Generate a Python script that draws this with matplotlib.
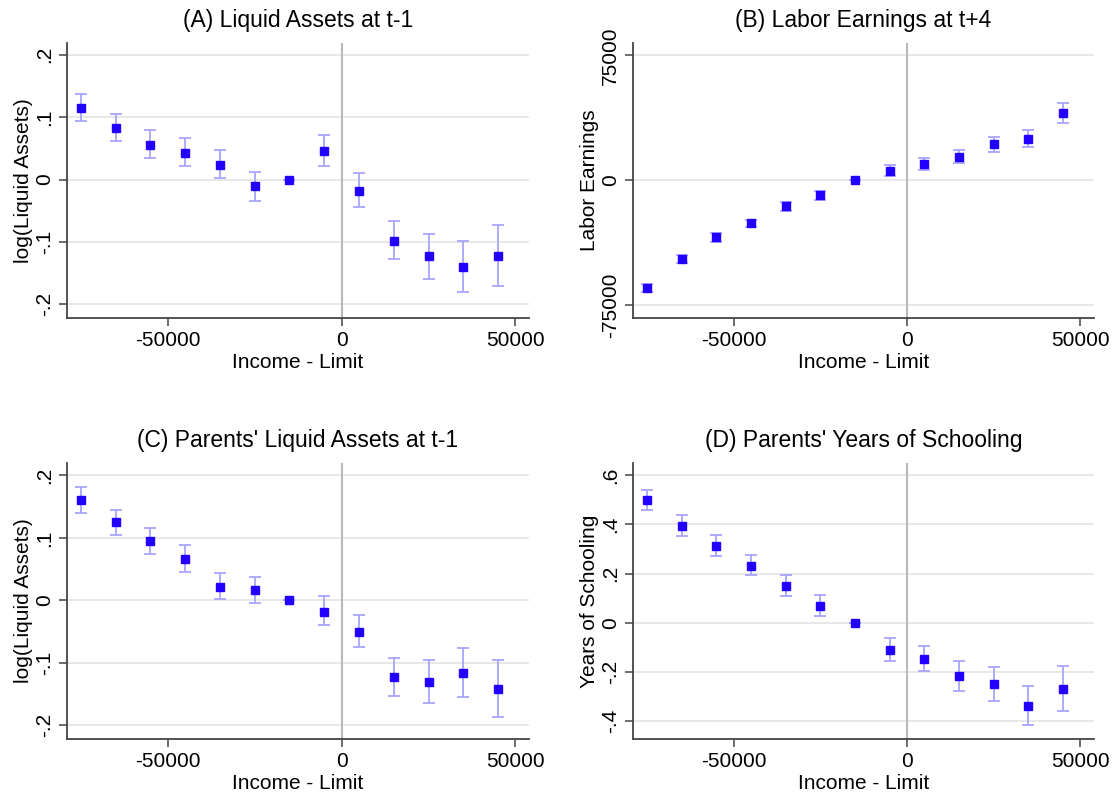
import numpy as np
import matplotlib
matplotlib.use("Agg")
import matplotlib.pyplot as plt

plt.rcParams['font.family'] = ['Liberation Sans', 'DejaVu Sans']

# bins of income minus eligibility limit
bins = [-75000, -65000, -55000, -45000, -35000, -25000, -15000,
        -5000, 5000, 15000, 25000, 35000, 45000]

# (A) log liquid assets at t-1
liq_est = [0.115, 0.083, 0.056, 0.043, 0.024, -0.011, 0.0,
           0.046, -0.018, -0.098, -0.123, -0.140, -0.122]
liq_lo = [0.094, 0.062, 0.035, 0.022, 0.002, -0.034, 0.0,
          0.022, -0.044, -0.128, -0.159, -0.181, -0.170]
liq_hi = [0.138, 0.105, 0.079, 0.066, 0.047, 0.012, 0.0,
          0.071, 0.010, -0.066, -0.087, -0.098, -0.073]

# (B) labor earnings at t+4
earn_est = [-64800, -47400, -34400, -26000, -15800, -9200, 0,
            5800, 9800, 14200, 21600, 25000, 40200]
earn_lo = [-67400, -49600, -37000, -28300, -18300, -11700, 0,
           2700, 6400, 10300, 17100, 19700, 34100]
earn_hi = [-62200, -45200, -31800, -23700, -13300, -6700, 0,
           8900, 13200, 18100, 26100, 30300, 46300]

# (C) parents' log liquid assets at t-1
pliq_est = [0.160, 0.125, 0.095, 0.067, 0.022, 0.016, 0.0,
            -0.018, -0.050, -0.123, -0.131, -0.117, -0.142]
pliq_lo = [0.140, 0.104, 0.075, 0.046, 0.002, -0.005, 0.0,
           -0.040, -0.075, -0.153, -0.165, -0.155, -0.187]
pliq_hi = [0.181, 0.145, 0.116, 0.088, 0.044, 0.038, 0.0,
           0.007, -0.023, -0.093, -0.096, -0.077, -0.095]

# (D) parents' years of schooling
school_est = [0.498, 0.395, 0.312, 0.232, 0.151, 0.069, 0.0,
              -0.110, -0.147, -0.217, -0.251, -0.339, -0.269]
school_lo = [0.458, 0.353, 0.272, 0.193, 0.109, 0.027, 0.0,
             -0.156, -0.198, -0.277, -0.320, -0.418, -0.358]
school_hi = [0.542, 0.437, 0.356, 0.277, 0.195, 0.114, 0.0,
             -0.064, -0.094, -0.156, -0.181, -0.259, -0.177]

panels = [
    ("(A) Liquid Assets at t-1", "log(Liquid Assets)", liq_est, liq_lo, liq_hi,
     [-0.2, -0.1, 0, 0.1, 0.2], ["-.2", "-.1", "0", ".1", ".2"], (-0.222, 0.219)),
    ("(B) Labor Earnings at t+4", "Labor Earnings", earn_est, earn_lo, earn_hi,
     [-75000, 0, 75000], ["-75000", "0", "75000"], (-82800, 82400)),
    ("(C) Parents' Liquid Assets at t-1", "log(Liquid Assets)", pliq_est, pliq_lo, pliq_hi,
     [-0.2, -0.1, 0, 0.1, 0.2], ["-.2", "-.1", "0", ".1", ".2"], (-0.222, 0.22)),
    ("(D) Parents' Years of Schooling", "Years of Schooling", school_est, school_lo, school_hi,
     [-0.4, -0.2, 0, 0.2, 0.4, 0.6], ["-.4", "-.2", "0", ".2", ".4", ".6"], (-0.473, 0.65)),
]

W, H = 1114, 796
fig = plt.figure(figsize=(W / 100, H / 100), dpi=100)
# axes boxes in pixels: left, top, right, bottom
boxes = [(67, 43, 529, 318), (633, 43, 1094, 318),
         (67, 463, 529, 739), (633, 463, 1094, 739)]

marker_col = '#2200ff'
err_col = '#a8a4ff'
spine_col = '#444444'

for (title, ylab, est, lo, hi, yt, ytl, ylim), (l, t, r, b) in zip(panels, boxes):
    ax = fig.add_axes([l / W, 1 - b / H, (r - l) / W, (b - t) / H])
    est = np.array(est, dtype=float)
    lo = np.array(lo, dtype=float)
    hi = np.array(hi, dtype=float)
    yerr = np.vstack([est - lo, hi - est])
    ax.errorbar(bins, est, yerr=yerr, fmt='none', ecolor=err_col,
                elinewidth=1.3, capsize=4.3, capthick=1.3, zorder=3)
    ax.plot(bins, est, 's', color=marker_col, markersize=5.6, zorder=4)
    ax.axvline(0, color='#b8b8b8', lw=1.5, zorder=1)
    for v in yt:
        ax.axhline(v, color='#e4e4e4', lw=1.2, zorder=0)
    ax.set_xlim(-79000, 53900)
    ax.set_ylim(*ylim)
    ax.set_xticks([-50000, 0, 50000])
    ax.set_xticklabels(["-50000", "0", "50000"])
    ax.set_yticks(yt)
    ax.set_yticklabels(ytl, rotation=90, va='center')
    ax.tick_params(labelsize=15, color=spine_col, length=5.5, width=1.1,
                   direction='out', pad=4)
    for s in ['top', 'right']:
        ax.spines[s].set_visible(False)
    for s in ['left', 'bottom']:
        ax.spines[s].set_color(spine_col)
        ax.spines[s].set_linewidth(1.3)
    ax.set_xlabel("Income - Limit", fontsize=15, labelpad=2)
    ax.set_ylabel(ylab, fontsize=15, labelpad=1)
    ax.set_title(title, fontsize=16.5, pad=11.5)

fig.savefig("out.png", dpi=100)
